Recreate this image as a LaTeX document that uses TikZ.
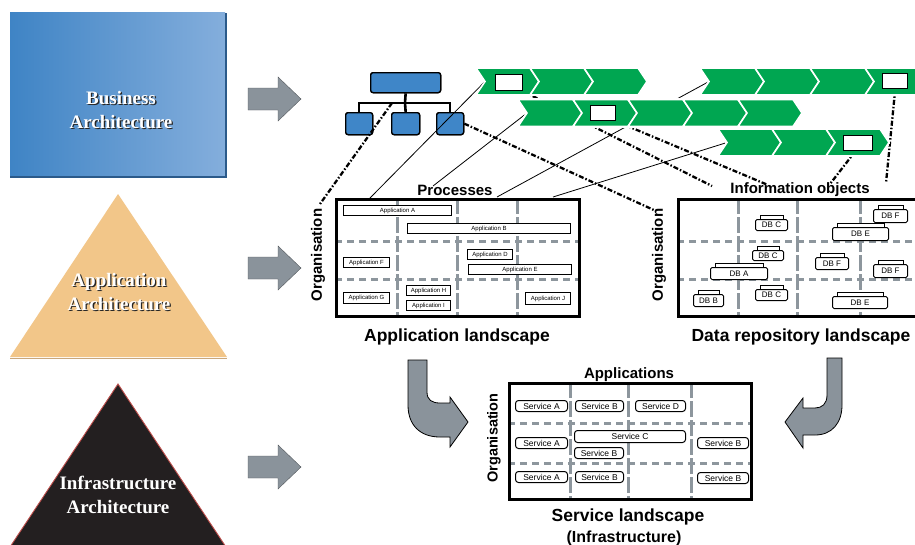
\documentclass[tikz,border=0pt]{standalone}
\usepackage{fontspec}
\setmainfont{Liberation Serif}
\setsansfont{Liberation Sans}
\definecolor{bizL}{HTML}{3F84C5}
\definecolor{bizR}{HTML}{84AEDC}
\definecolor{bizD}{HTML}{2B5A8A}
\definecolor{appT}{HTML}{F2C689}
\definecolor{appD}{HTML}{C9A77C}
\definecolor{infra}{HTML}{231F20}
\definecolor{infraE}{HTML}{C0504D}
\definecolor{grn}{HTML}{00A651}
\definecolor{orgb}{HTML}{3F86C8}
\definecolor{gridg}{HTML}{8D969D}
\definecolor{arrg}{HTML}{8A939B}
\newcommand\bx[7]{\node[#1, anchor=north west, minimum width={(#5)-(#3)}, minimum height={(#6)-(#4)}] (#2) at (#3,#4) {#7};}
\newcommand\dbx[6]{\node[dbbox, anchor=north west, minimum width={(#4)-(#2)}, minimum height={(#5)-(#3)-4}] (#1) at (#2,#3+4) {#6};
  \draw[dbtab] ([xshift=5pt]#1.north west) rectangle ([xshift=-5pt,yshift=3.5pt]#1.north east);}
\newcommand\chevr[3]{\path[chev] (#1,#2) -- ++(#3,0) -- ++(9,13.5) -- ++(-9,13.5) -- ++(-#3,0) -- ++(9,-13.5) -- cycle;}
\begin{document}
\begin{tikzpicture}[x=1pt,y=-1pt,
  big/.style={font=\fontsize{19}{24}\selectfont\bfseries, align=center, inner sep=0},
  ttl/.style={font=\sffamily\bfseries\fontsize{15}{17}\selectfont, inner sep=0},
  ttlbig/.style={font=\sffamily\bfseries\fontsize{17.5}{20}\selectfont, inner sep=0},
  blockarrow/.style={fill=arrg, draw=arrg!60!black, line width=0.4},
  chev/.style={fill=grn, draw=white, line width=1.6, line join=miter},
  orgbox/.style={fill=orgb, draw=black, line width=1.3, rounded corners=2.5, inner sep=0},
  tree/.style={draw=black, line width=2.6},
  wbox/.style={fill=white, draw=black, line width=1.4, inner sep=0},
  land/.style={draw=black, line width=2.6, inner sep=0},
  gv/.style={draw=gridg, line width=3, dash pattern=on 16pt off 3pt},
  gh/.style={draw=gridg, line width=3, dash pattern=on 7pt off 5pt},
  appbox/.style={fill=white, draw=black, line width=1, inner sep=0, font=\sffamily\fontsize{6}{6}\selectfont},
  svcbox/.style={fill=white, draw=black, line width=1, rounded corners=3, inner sep=0, font=\sffamily\fontsize{8.5}{8.5}\selectfont},
  dbbox/.style={fill=white, draw=black, line width=1, rounded corners=1.5, inner sep=0, font=\sffamily\fontsize{8}{8}\selectfont},
  dbtab/.style={fill=white, draw=black, line width=0.8},
  thickdash/.style={draw=black, line width=2.3, dash pattern=on 5pt off 2pt on 1.5pt off 2pt},
  thinline/.style={draw=black, line width=0.8},
  curvearrow/.style={fill=arrg, draw=black, line width=0.8},
]
\useasboundingbox (0,0) rectangle (915,544);
\clip (0,0) rectangle (915,544);
\fill[white] (0,0) rectangle (915,544);

% ---- left panels ----
\shade[left color=bizL, right color=bizR] (10,12) rectangle (225,176);
\draw[bizD, line width=1.6] (10,177) -- (226,177) -- (226,13);
\node[big, text=black!85] at (122.3,111.3) {Business\\Architecture};
\node[big, text=white] (biz) at (121,110) {Business\\Architecture};

\fill[appT] (10,357) -- (118,194) -- (227,357) -- cycle;
\draw[appD, line width=1.2] (10,358.5) -- (227,358.5);
\node[big, text=black!85] at (120.3,293.3) {Application\\Architecture};
\node[big, text=white] (app) at (119,292) {Application\\Architecture};

\path[fill=infra, draw=infraE, line width=0.9] (8,550) -- (118,384) -- (228,550) -- cycle;
\node[big, text=white] (inf) at (118,495) {Infrastructure\\Architecture};

\foreach \c in {99,268,467}
  \path[blockarrow] (248,\c-11) -- (278,\c-11) -- (278,\c-22) -- (301,\c) -- (278,\c+22) -- (278,\c+11) -- (248,\c+11) -- cycle;

% ---- org chart ----
\node[orgbox, anchor=north west, minimum width=70, minimum height=20] (top) at (370,72) {};
\node[orgbox, anchor=north west, minimum width=27, minimum height=22] (c1) at (345,112) {};
\node[orgbox, anchor=north west, minimum width=28, minimum height=22] (c2) at (391,112) {};
\node[orgbox, anchor=north west, minimum width=27, minimum height=22] (c3) at (436,112) {};
\coordinate (j0) at (405,103);
\coordinate (j) at (392,103);
\draw[tree] (top.south) -- (j0);
\draw[tree] (c1.north) |- (j0) -| (c3.north);
\draw[tree] (j0) -- (c2.north);
\node[orgbox, anchor=north west, minimum width=70, minimum height=20] at (370,72) {};
\node[orgbox, anchor=north west, minimum width=27, minimum height=22] at (345,112) {};
\node[orgbox, anchor=north west, minimum width=28, minimum height=22] at (391,112) {};
\node[orgbox, anchor=north west, minimum width=27, minimum height=22] at (436,112) {};

% ---- labels of landscapes ----
\node[ttl] (proc) at (455,190) {Processes};
\node[ttl] (info) at (800,190) {Information objects};
\node[ttl, rotate=90] (orgA) at (318,255) {Organisation};
\node[ttl, rotate=90] (orgD) at (659,255) {Organisation};
\node[ttl, rotate=90, font=\sffamily\bfseries\fontsize{14.5}{16}\selectfont] (orgS) at (494,438) {Organisation};
\node[ttlbig] (appT) at (457,337) {Application landscape};
\node[ttlbig] (dataT) at (801,337) {Data repository landscape};
\node[ttl] (appsS) at (629,375) {Applications};
\node[ttlbig] (svcT) at (628,517) {Service landscape};
\node[ttl, font=\sffamily\bfseries\fontsize{16}{18}\selectfont] (infT) at (624,538) {(Infrastructure)};

% ---- connector end points ----
\coordinate (oa) at (320,204);
\coordinate (od) at (656,211);
\coordinate (pa) at (370,198);
\coordinate (pb) at (433,186);
\coordinate (pc) at (497,197);
\coordinate (pd) at (553,197);
\coordinate (i1) at (712,186);
\coordinate (i2) at (768,185);
\coordinate (i3) at (830,184);
\coordinate (i4) at (886,183);
\coordinate (n1) at (485,81.5);
\coordinate (n2) at (527,113);
\coordinate (n3) at (709,81.5);
\coordinate (n4) at (727,142.5);

% white boxes on chevrons (names for connectors)
\node[wbox, anchor=north west, minimum width=27, minimum height=16] (wb1) at (495,74) {};
\node[wbox, anchor=north west, minimum width=25, minimum height=15] (wb2) at (590,105) {};
\node[wbox, anchor=north west, minimum width=29, minimum height=15] (wb3) at (843,135) {};
\node[wbox, anchor=north west, minimum width=25, minimum height=15] (wb4) at (882,73) {};

% connectors
\draw[thickdash] (j) -- (oa);
\draw[thickdash] (c3.east) -- (od);
\draw[thickdash] (wb1.south east) -- (i1);
\draw[thickdash] (wb2.south east) -- (i2);
\draw[thickdash] ([xshift=-3pt]wb3.south) -- (i3);
\draw[thickdash] (wb4.south) -- (i4);
\draw[thinline] (pa) -- (n1);
\draw[thinline] (pb) -- (n2);
\draw[thinline] (pc) -- (n3);
\draw[thinline] (pd) -- (n4);

% ---- chevrons ----
\foreach \x in {476,530,584} \chevr{\x}{68}{54}
\foreach \x in {700,755,810,865} \chevr{\x}{68}{55}
\foreach \x in {518,573,628,683,738} \chevr{\x}{99.5}{55}
\foreach \x in {718,772,826} \chevr{\x}{129}{54}
\node[wbox, anchor=north west, minimum width=27, minimum height=16] at (495,74) {};
\node[wbox, anchor=north west, minimum width=25, minimum height=15] at (590,105) {};
\node[wbox, anchor=north west, minimum width=29, minimum height=15] at (843,135) {};
\node[wbox, anchor=north west, minimum width=25, minimum height=15] at (882,73) {};

% ---- application landscape ----
\begin{scope}
\clip (335,198) rectangle (578,315);
\foreach \x in {397,457,517} \draw[gv] (\x,198) -- (\x,315);
\foreach \y in {241,279} \draw[gh] (335,\y) -- (578,\y);
\end{scope}
\bx{land}{appL}{335}{198}{578}{315}{}
\bx{appbox}{a1}{343}{205}{451}{215}{Application A}
\bx{appbox}{a2}{407}{223}{570}{233}{Application B}
\bx{appbox}{a3}{343}{257}{389}{267}{Application F}
\bx{appbox}{a4}{467}{249}{512}{259}{Application D}
\bx{appbox}{a5}{468}{264}{571}{274}{Application E}
\bx{appbox}{a6}{343}{292}{389}{303}{Application G}
\bx{appbox}{a7}{406}{285}{450}{295}{Application H}
\bx{appbox}{a8}{406}{300}{450}{310}{Application I}
\bx{appbox}{a9}{525}{292}{570}{304}{Application J}

% ---- data repository landscape ----
\begin{scope}
\clip (677,198) rectangle (930,315);
\foreach \x in {738,797,860} \draw[gv] (\x,198) -- (\x,315);
\foreach \y in {241,279} \draw[gh] (677,\y) -- (930,\y);
\end{scope}
\bx{land}{dataL}{677}{198}{930}{315}{}
\dbx{d1}{755}{215}{787}{230}{DB C}
\dbx{d2}{873}{205}{907}{222}{DB F}
\dbx{d3}{832}{223}{888}{240}{DB E}
\dbx{d4}{752}{246}{783}{260}{DB C}
\dbx{d5}{710}{263}{767}{279}{DB A}
\dbx{d6}{815}{253}{848}{269}{DB F}
\dbx{d7}{873}{260}{907}{277}{DB F}
\dbx{d8}{693}{290}{723}{306}{DB B}
\dbx{d9}{755}{285}{787}{300}{DB C}
\dbx{d10}{832}{292}{887}{308}{DB E}

% ---- service landscape ----
\begin{scope}
\clip (508,382) rectangle (750,498);
\foreach \x in {570,628,691} \draw[gv] (\x,382) -- (\x,498);
\foreach \y in {423,463} \draw[gh] (508,\y) -- (750,\y);
\end{scope}
\bx{land}{svcL}{508}{382}{750}{498}{}
\bx{svcbox}{s1}{515}{400}{567}{411}{Service A}
\bx{svcbox}{s2}{575}{400}{623}{411}{Service B}
\bx{svcbox}{s3}{635}{400}{685}{411}{Service D}
\bx{svcbox}{s4}{515}{437}{567}{448}{Service A}
\bx{svcbox}{s5}{574}{430}{685}{442}{Service C}
\bx{svcbox}{s6}{574}{447}{623}{458}{Service B}
\bx{svcbox}{s7}{697}{437}{748}{448}{Service B}
\bx{svcbox}{s8}{515}{471}{567}{482}{Service A}
\bx{svcbox}{s9}{575}{471}{623}{482}{Service B}
\bx{svcbox}{s10}{697}{472}{748}{483}{Service B}

% ---- curved arrows ----
\path[curvearrow] (408,360) -- (427,360) -- (427,392) .. controls (427,400) and (432,403) .. (440,403) -- (450,403) -- (450,397) -- (468,422) -- (450,447) -- (450,437) -- (440,437) .. controls (420,437) and (408,425) .. (408,405) -- cycle;
\path[curvearrow] (842,358) -- (827,358) -- (827,395) .. controls (827,404) and (822,408) .. (815,408) -- (803,408) -- (803,398) -- (785,422) -- (803,448) -- (803,435) -- (815,435) .. controls (832,435) and (842,423) .. (842,405) -- cycle;
\end{tikzpicture}
\end{document}
